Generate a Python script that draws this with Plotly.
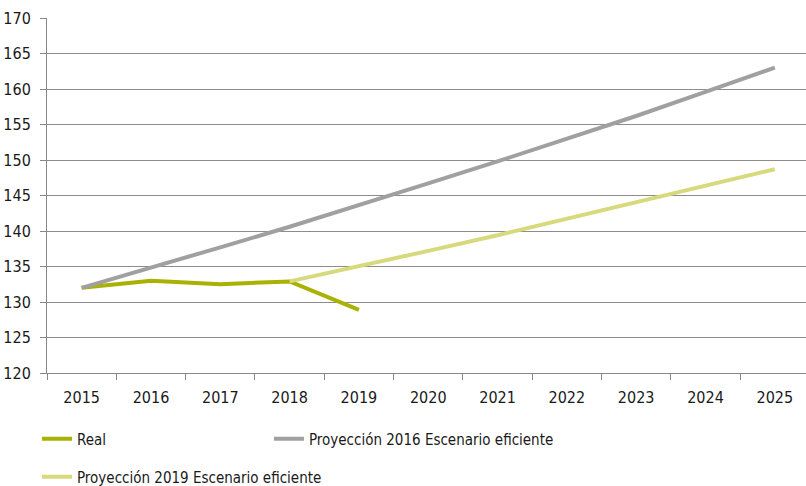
import plotly.graph_objects as go

years = ["2015", "2016", "2017", "2018", "2019", "2020", "2021", "2022", "2023", "2024", "2025"]
real_years = ["2015", "2016", "2017", "2018", "2019"]
real_vals = [132.0, 133.0, 132.5, 132.9, 128.9]
p2016_vals = [132.0, 134.8, 137.7, 140.6, 143.6, 146.7, 149.8, 153.0, 156.2, 159.6, 163.0]
p2019_years = ["2018", "2019", "2020", "2021", "2022", "2023", "2024", "2025"]
p2019_vals = [132.9, 135.0, 137.2, 139.4, 141.7, 144.0, 146.3, 148.7]
yticks = list(range(120, 171, 5))

FONT = "DejaVu Sans Condensed"

fig = go.Figure()
fig.add_trace(go.Scatter(x=real_years, y=real_vals, mode="lines", name="Real",
                         line=dict(color="#a9b200", width=4), legend="legend"))
fig.add_trace(go.Scatter(x=years, y=p2016_vals, mode="lines", name="Proyección 2016 Escenario eficiente",
                         line=dict(color="#a0a0a0", width=4), legend="legend2"))
fig.add_trace(go.Scatter(x=p2019_years, y=p2019_vals, mode="lines", name="Proyección 2019 Escenario eficiente",
                         line=dict(color="#d7da7c", width=4), legend="legend3"))

leg_common = dict(orientation="h", xref="container", yref="container",
                  xanchor="left", yanchor="middle",
                  font=dict(size=15), bgcolor="rgba(0,0,0,0)")

fig.update_layout(
    width=806, height=486,
    margin=dict(l=47, r=0, t=18, b=113),
    paper_bgcolor="white", plot_bgcolor="white",
    font=dict(family=FONT, size=16, color="#1a1a1a"),
    showlegend=True,
    legend=dict(x=0.0459, y=0.0967, **leg_common),
    legend2=dict(x=0.3337, y=0.0967, **leg_common),
    legend3=dict(x=0.0459, y=0.0185, **leg_common),
    xaxis=dict(type="category", categoryorder="array", categoryarray=years,
               range=[-0.5, 10.45], tickson="boundaries", ticks="outside", ticklen=6,
               tickcolor="#888888", showline=True, linecolor="#888888", linewidth=1,
               showgrid=False, tickfont=dict(size=16), ticklabelstandoff=10,
               automargin=False),
    yaxis=dict(range=[120, 170], tickvals=yticks, ticks="outside", ticklen=6,
               tickcolor="#888888", showline=True, linecolor="#888888", linewidth=1,
               showgrid=True, gridcolor="#8c8c8c", gridwidth=1, zeroline=False,
               tickfont=dict(size=16), ticklabelstandoff=6, automargin=False),
)

fig.write_html("out.html")
